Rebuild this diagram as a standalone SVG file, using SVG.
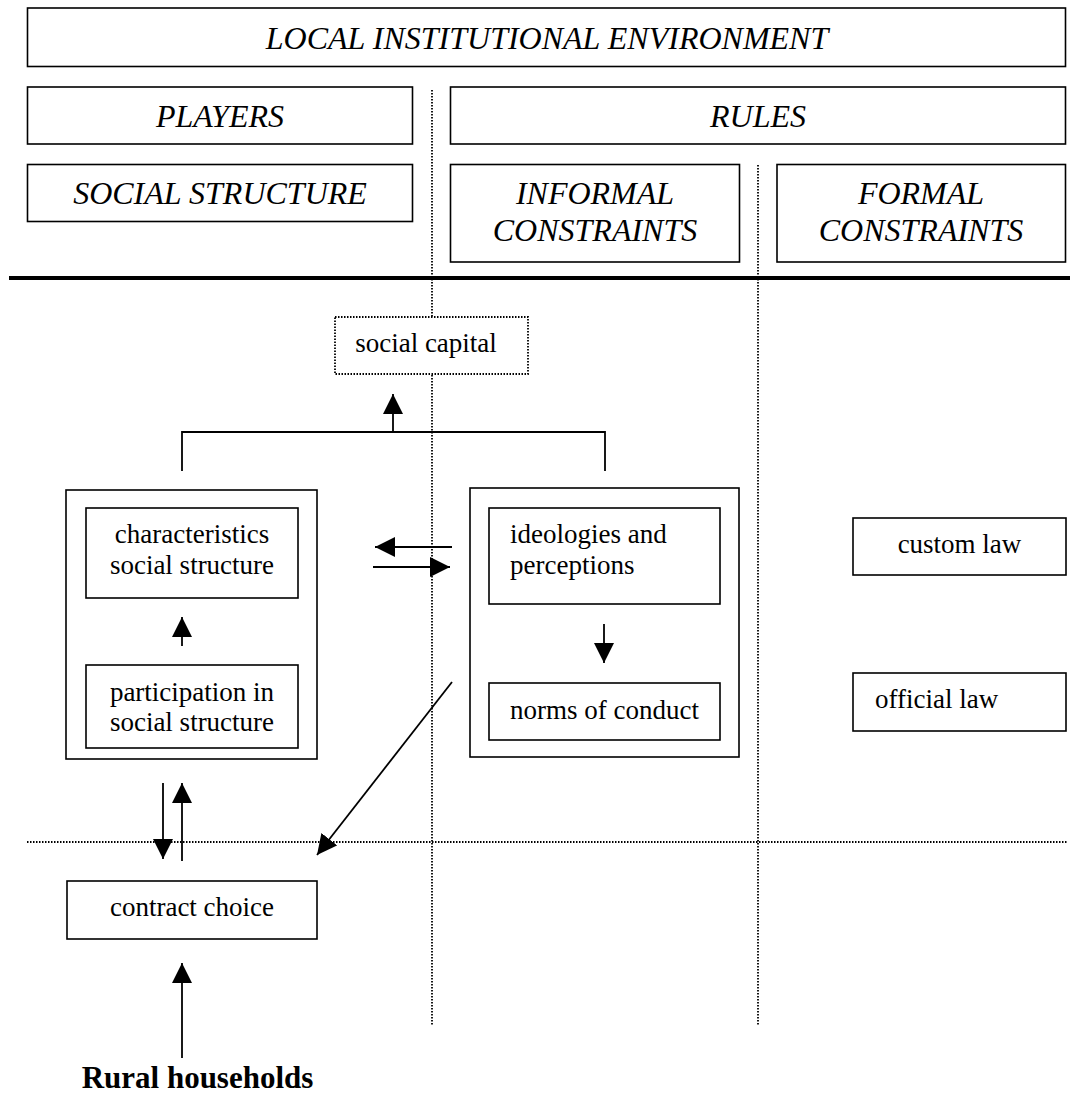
<svg xmlns="http://www.w3.org/2000/svg" width="1070" height="1095" viewBox="0 0 1070 1095">
<style>
.box{fill:#fff;stroke:#000;stroke-width:1.6}
.dotbox{fill:#fff;stroke:#000;stroke-width:1.8;stroke-dasharray:1.5 1.5}
.dot{fill:none;stroke:#000;stroke-width:1.8;stroke-dasharray:1.5 1.5}
.ln{fill:none;stroke:#000;stroke-width:1.8}
.hd{font-family:"Liberation Serif","Times New Roman",serif;font-style:italic;font-size:32px;fill:#000}
.tx{font-family:"Liberation Serif","Times New Roman",serif;font-size:27px;fill:#000}
.bd{font-family:"Liberation Serif","Times New Roman",serif;font-weight:bold;font-size:31px;fill:#000}
</style>
<defs>
<marker id="ah" markerUnits="userSpaceOnUse" markerWidth="20" markerHeight="20" viewBox="0 0 20 20" refX="20" refY="10" orient="auto">
<path d="M0,0 L20,10 L0,20 Z" fill="#000"/>
</marker>
</defs>
<g id="guides">
<line class="dot" x1="432" y1="90" x2="432" y2="1025"/>
<line class="dot" x1="758" y1="165" x2="758" y2="1025"/>
<line class="dot" x1="27" y1="842" x2="1068" y2="842"/>
<line x1="9" y1="278" x2="1070" y2="278" stroke="#000" stroke-width="4"/>
</g>
<g id="n-env"><rect class="box" x="27.5" y="8" width="1038" height="58.5"/><text class="hd" x="547" y="49" text-anchor="middle">LOCAL INSTITUTIONAL ENVIRONMENT</text></g>
<g id="n-players"><rect class="box" x="27.5" y="87" width="385" height="57"/><text class="hd" x="220" y="127" text-anchor="middle">PLAYERS</text></g>
<g id="n-rules"><rect class="box" x="450.5" y="87" width="615" height="57"/><text class="hd" x="758" y="127" text-anchor="middle">RULES</text></g>
<g id="n-social"><rect class="box" x="27.5" y="164.5" width="385" height="57"/><text class="hd" x="220" y="204" text-anchor="middle">SOCIAL STRUCTURE</text></g>
<g id="n-informal"><rect class="box" x="450.5" y="164.5" width="289" height="97.5"/><text class="hd" x="595" y="204" text-anchor="middle">INFORMAL</text><text class="hd" x="595" y="241" text-anchor="middle">CONSTRAINTS</text></g>
<g id="n-formal"><rect class="box" x="777" y="164.5" width="288.5" height="97.5"/><text class="hd" x="921" y="204" text-anchor="middle">FORMAL</text><text class="hd" x="921" y="241" text-anchor="middle">CONSTRAINTS</text></g>
<g id="n-capital"><rect class="dotbox" x="335" y="317" width="193" height="57"/><text class="tx" x="426" y="352" text-anchor="middle">social capital</text></g>
<g id="n-left"><rect class="box" x="66" y="490" width="251" height="269"/></g>
<g id="n-char"><rect class="box" x="86" y="508" width="212" height="90"/><text class="tx" x="192" y="543" text-anchor="middle">characteristics</text><text class="tx" x="192" y="574" text-anchor="middle">social structure</text></g>
<g id="n-part"><rect class="box" x="86" y="665" width="212" height="83"/><text class="tx" x="192" y="701" text-anchor="middle">participation in</text><text class="tx" x="192" y="731" text-anchor="middle">social structure</text></g>
<g id="n-right"><rect class="box" x="470" y="488" width="269" height="269"/></g>
<g id="n-ideo"><rect class="box" x="489" y="508" width="231" height="96"/><text class="tx" x="510" y="543">ideologies and</text><text class="tx" x="510" y="574">perceptions</text></g>
<g id="n-norms"><rect class="box" x="489" y="683" width="231" height="57"/><text class="tx" x="510" y="719">norms of conduct</text></g>
<g id="n-custom"><rect class="box" x="853" y="518" width="213" height="57"/><text class="tx" x="959.5" y="553" text-anchor="middle">custom law</text></g>
<g id="n-official"><rect class="box" x="853" y="673" width="213" height="58"/><text class="tx" x="875" y="708">official law</text></g>
<g id="n-contract"><rect class="box" x="67" y="881" width="250" height="58"/><text class="tx" x="192" y="916" text-anchor="middle">contract choice</text></g>
<g id="n-rural"><text class="bd" x="197.5" y="1088" text-anchor="middle">Rural households</text></g>
<g id="connectors">
<path class="ln" d="M182,471 V432 H605 V471"/>
<line class="ln" x1="393" y1="432" x2="393" y2="394" marker-end="url(#ah)"/>
<line class="ln" x1="182" y1="646" x2="182" y2="617" marker-end="url(#ah)"/>
<line class="ln" x1="452" y1="547" x2="375" y2="547" marker-end="url(#ah)"/>
<line class="ln" x1="373" y1="567" x2="450" y2="567" marker-end="url(#ah)"/>
<line class="ln" x1="604" y1="624" x2="604" y2="663" marker-end="url(#ah)"/>
<line class="ln" x1="452" y1="682" x2="317" y2="855" marker-end="url(#ah)"/>
<line class="ln" x1="163" y1="783" x2="163" y2="859" marker-end="url(#ah)"/>
<line class="ln" x1="182" y1="861" x2="182" y2="783" marker-end="url(#ah)"/>
<line class="ln" x1="182" y1="1058" x2="182" y2="963" marker-end="url(#ah)"/>
</g>
</svg>
